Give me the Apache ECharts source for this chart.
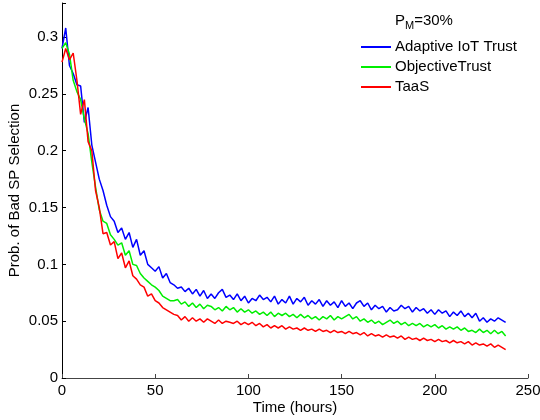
<!DOCTYPE html>
<html>
<head>
<meta charset="utf-8">
<script src="https://cdn.jsdelivr.net/npm/echarts@6/dist/echarts.min.js"></script>
<style>html,body{margin:0;padding:0;background:#fff;}#c{width:540px;height:420px;}</style>
</head>
<body>
<div id="c"></div>
<script>
var hours = [0,2,4,6,8,10,12,14,16,18,20,22,24,26,28,30,32,34,36,38,40,42,44,46,48,50,52,54,56,58,60,62,64,66,68,70,72,74,76,78,80,82,84,86,88,90,92,94,96,98,100,102,104,106,108,110,112,114,116,118,120,122,124,126,128,130,132,134,136,138,140,142,144,146,148,150,152,154,156,158,160,162,164,166,168,170,172,174,176,178,180,182,184,186,188,190,192,194,196,198,200,202,204,206,208,210,212,214,216,218,220,222,224,226,228,230,232,234,236,238];

var adaptive = [0.290,0.308,0.275,0.268,0.258,0.257,0.225,0.238,0.205,0.190,0.175,0.165,0.152,0.142,0.138,0.128,0.132,0.122,0.128,0.115,0.122,0.108,0.112,0.100,0.097,0.094,0.098,0.088,0.092,0.084,0.082,0.079,0.080,0.076,0.079,0.074,0.078,0.072,0.077,0.070,0.074,0.070,0.075,0.078,0.071,0.073,0.069,0.074,0.068,0.072,0.066,0.070,0.068,0.073,0.069,0.071,0.067,0.072,0.065,0.069,0.066,0.072,0.065,0.070,0.067,0.071,0.064,0.068,0.065,0.069,0.063,0.068,0.064,0.067,0.062,0.068,0.063,0.066,0.061,0.066,0.068,0.063,0.066,0.060,0.064,0.061,0.063,0.058,0.062,0.059,0.060,0.064,0.061,0.063,0.058,0.062,0.059,0.061,0.057,0.060,0.056,0.060,0.057,0.059,0.054,0.058,0.055,0.059,0.054,0.057,0.053,0.057,0.050,0.053,0.049,0.052,0.050,0.053,0.051,0.049];

var objective = [0.290,0.295,0.285,0.262,0.252,0.245,0.228,0.215,0.190,0.168,0.148,0.138,0.136,0.126,0.122,0.117,0.119,0.108,0.112,0.100,0.099,0.092,0.088,0.085,0.082,0.080,0.077,0.072,0.070,0.068,0.068,0.069,0.065,0.067,0.063,0.066,0.062,0.065,0.061,0.064,0.063,0.060,0.062,0.059,0.063,0.060,0.062,0.058,0.061,0.058,0.060,0.057,0.059,0.056,0.058,0.055,0.058,0.054,0.057,0.055,0.057,0.054,0.056,0.053,0.056,0.053,0.055,0.052,0.054,0.051,0.054,0.052,0.055,0.051,0.054,0.052,0.054,0.056,0.052,0.054,0.050,0.052,0.049,0.051,0.048,0.050,0.047,0.049,0.051,0.048,0.050,0.047,0.049,0.046,0.048,0.046,0.048,0.045,0.047,0.045,0.047,0.044,0.046,0.043,0.045,0.043,0.045,0.042,0.044,0.041,0.042,0.040,0.043,0.040,0.042,0.039,0.042,0.039,0.041,0.037];

var taas = [0.278,0.290,0.280,0.286,0.262,0.232,0.245,0.208,0.200,0.165,0.150,0.127,0.128,0.117,0.120,0.105,0.110,0.097,0.103,0.090,0.087,0.082,0.080,0.072,0.074,0.068,0.066,0.062,0.060,0.058,0.056,0.055,0.051,0.054,0.050,0.053,0.050,0.052,0.049,0.052,0.050,0.048,0.051,0.048,0.050,0.049,0.048,0.050,0.047,0.049,0.047,0.049,0.046,0.048,0.045,0.047,0.044,0.046,0.044,0.046,0.043,0.045,0.043,0.044,0.042,0.044,0.042,0.043,0.041,0.043,0.041,0.042,0.040,0.042,0.040,0.041,0.039,0.041,0.039,0.040,0.038,0.040,0.037,0.039,0.037,0.038,0.036,0.038,0.036,0.037,0.035,0.037,0.034,0.036,0.034,0.035,0.033,0.035,0.033,0.034,0.032,0.034,0.032,0.033,0.031,0.033,0.031,0.032,0.030,0.032,0.029,0.031,0.029,0.030,0.028,0.030,0.027,0.029,0.027,0.025];

var seriesNames = ['Adaptive IoT Trust', 'ObjectiveTrust', 'TaaS'];
var seriesColors = ['#0000ff', '#00ee00', '#ff0000'];
var seriesValues = [adaptive, objective, taas];
var xTicks = [0, 50, 100, 150, 200, 250];

function pairs(vals) {
  var out = [];
  for (var i = 0; i < hours.length && i < vals.length; i++) out.push([hours[i], vals[i]]);
  return out;
}

var font = 'Liberation Sans, Arial, sans-serif';
var fs = 15;
var chart = echarts.init(document.getElementById('c'), null, {renderer: 'canvas'});
chart.setOption({
  animation: false,
  backgroundColor: '#fff',
  title: {
    text: '{a|P}{sub|M}{a|=30%}',
    left: 395, top: 12, padding: 0,
    textStyle: {
      fontWeight: 'normal',
      rich: {
        a: {fontFamily: font, fontSize: fs, fontWeight: 'normal', color: '#000', lineHeight: 18},
        sub: {fontFamily: font, fontSize: 11, fontWeight: 'normal', color: '#000', padding: [10, 0, 0, 0], lineHeight: 18}
      }
    }
  },
  legend: {
    orient: 'vertical',
    left: 361, top: 39, padding: 0,
    itemWidth: 30, itemHeight: 2, itemGap: 4,
    icon: 'rect',
    data: seriesNames,
    textStyle: {fontFamily: font, fontSize: fs, color: '#000', lineHeight: 16, padding: [0,0,0,-1]}
  },
  grid: {left: 62, top: 3, right: 12, bottom: 42, outerBoundsMode: 'none', containLabel: false},
  xAxis: {
    type: 'value', min: xTicks[0], max: xTicks[xTicks.length-1], interval: 50,
    name: 'Time (hours)', nameLocation: 'middle', nameGap: 22, nameMoveOverlap: false,
    nameTextStyle: {fontFamily: font, fontSize: fs, color: '#000'},
    axisLine: {lineStyle: {color: '#444', width: 1}},
    axisTick: {inside: true, length: 4, lineStyle: {color: '#444'}},
    axisLabel: {fontFamily: font, fontSize: fs, color: '#000', margin: 5},
    splitLine: {show: false}
  },
  yAxis: {
    type: 'value', min: 0, max: 0.33, interval: 0.05,
    name: 'Prob. of Bad SP Selection', nameLocation: 'middle', nameGap: 40, nameMoveOverlap: false,
    nameTextStyle: {fontFamily: font, fontSize: fs, color: '#000'},
    axisLine: {show: true, lineStyle: {color: '#000', width: 1}},
    axisTick: {show: true, inside: true, length: 4, lineStyle: {color: '#000'}},
    axisLabel: {fontFamily: font, fontSize: fs, color: '#000', margin: 4,
      formatter: function (v) { return v > 0.31 ? '' : String(+v.toFixed(2)); }},
    splitLine: {show: false}
  },
  series: seriesNames.map(function (n, i) {
    return {
      name: n, type: 'line', data: pairs(seriesValues[i]),
      showSymbol: false, symbol: 'none',
      lineStyle: {color: seriesColors[i], width: 1.5},
      itemStyle: {color: seriesColors[i]}
    };
  })
});
</script>
</body>
</html>
